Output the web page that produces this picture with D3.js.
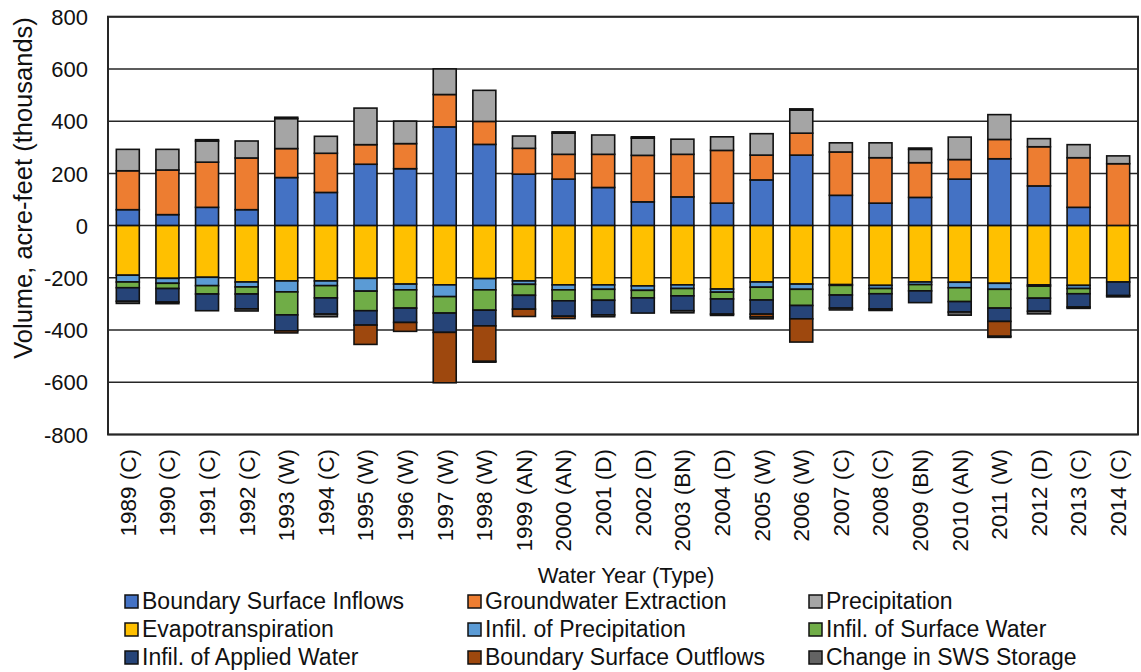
<!DOCTYPE html>
<html>
<head>
<meta charset="utf-8">
<script src="https://cdn.jsdelivr.net/npm/d3@7"></script>
<style>
  html, body { margin: 0; padding: 0; background: #fff; }
  svg { display: block; font-family: "Liberation Sans", Arial, sans-serif; }
</style>
</head>
<body>
<svg id="chart" width="1141" height="672"></svg>
<script>
const years = ["1989 (C)", "1990 (C)", "1991 (C)", "1992 (C)", "1993 (W)", "1994 (C)", "1995 (W)", "1996 (W)", "1997 (W)", "1998 (W)", "1999 (AN)", "2000 (AN)", "2001 (D)", "2002 (D)", "2003 (BN)", "2004 (D)", "2005 (W)", "2006 (W)", "2007 (C)", "2008 (C)", "2009 (BN)", "2010 (AN)", "2011 (W)", "2012 (D)", "2013 (C)", "2014 (C)"];

const boundaryInflows  = [61, 42, 70, 61, 184, 127, 235, 218, 378, 311, 197, 178, 146, 91, 110, 86, 175, 270, 116, 86, 108, 178, 256, 152, 70, 0];
const gwExtraction     = [149, 171, 173, 198, 111, 150, 75, 96, 124, 88, 99, 95, 127, 178, 163, 202, 95, 84, 166, 174, 133, 75, 74, 150, 190, 237];
const precipitation    = [82, 79, 81, 65, 115, 65, 140, 86, 98, 119, 47, 81, 74, 66, 58, 52, 82, 88, 35, 57, 51, 86, 95, 31, 50, 30];
const evapotranspiration = [-190, -202, -198, -216, -212, -212, -202, -224, -227, -203, -212, -227, -227, -231, -227, -243, -216, -224, -226, -229, -216, -217, -221, -227, -229, -216];
const infilPrecip      = [-26, -19, -32, -19, -42, -18, -49, -22, -45, -43, -13, -19, -17, -17, -14, -12, -20, -20, -3, -12, -10, -21, -23, -5, -12, 0];
const infilSurface     = [-22, -20, -32, -27, -88, -47, -75, -70, -63, -78, -42, -42, -42, -29, -28, -26, -49, -62, -37, -20, -24, -53, -72, -46, -20, 0];
const infilApplied     = [-52, -52, -64, -57, -61, -62, -55, -55, -74, -60, -53, -59, -56, -58, -57, -58, -54, -51, -50, -58, -45, -40, -51, -50, -51, -52];
const boundaryOutflows = [0, 0, 0, 0, -8, 0, -74, -34, -193, -136, -28, -9, 0, 0, 0, 0, -11, -89, 0, 0, 0, 0, -57, 0, 0, 0];
const swsStorage       = [-8, -6, 5, -8, 5, -10, 0, 0, 0, -3, 0, 5, -7, 5, -8, -5, -7, 5, -7, -6, 5, -12, -4, -10, -5, -5];

const yTicks = [800, 600, 400, 200, 0, -200, -400, -600, -800];
const yTickLabels = ["800", "600", "400", "200", "0", "-200", "-400", "-600", "-800"];

const seriesNames = ["Boundary Surface Inflows", "Groundwater Extraction", "Precipitation",
  "Evapotranspiration", "Infil. of Precipitation", "Infil. of Surface Water",
  "Infil. of Applied Water", "Boundary Surface Outflows", "Change in SWS Storage"];
const seriesColors = ["#4472C4", "#ED7D31", "#A5A5A5", "#FFC000", "#5B9BD5", "#70AD47", "#264478", "#9E480E", "#636363"];
const seriesValues = [boundaryInflows, gwExtraction, precipitation, evapotranspiration, infilPrecip, infilSurface, infilApplied, boundaryOutflows, swsStorage];

(function () {
const table = years.map((yr, i) => {
  const row = { year: yr };
  seriesNames.forEach((n, k) => row[n] = seriesValues[k][i]);
  return row;
});

const svg = d3.select("#chart");
const pLeft = 108, pRight = 1138, pTop = 16.7, pBottom = 434.5;

const x = d3.scaleBand().domain(years).range([pLeft, pRight]).paddingInner(0.42).paddingOuter(0.21);
const y = d3.scaleLinear().domain([-800, 800]).range([pBottom, pTop]);

// Gridlines
svg.append("g").selectAll("line").data(yTicks).join("line")
  .attr("x1", pLeft).attr("x2", pRight)
  .attr("y1", d => y(d)).attr("y2", d => y(d))
  .attr("stroke", "#262626").attr("stroke-width", 1.5);

// Stacks
const stack = d3.stack().keys(seriesNames).offset(d3.stackOffsetDiverging);
const stacked = stack(table);

const gBars = svg.append("g");
stacked.forEach((s, k) => {
  gBars.append("g")
    .attr("fill", seriesColors[k])
    .selectAll("rect")
    .data(s.filter(d => d[1] !== d[0]))
    .join("rect")
    .attr("x", d => x(d.data.year))
    .attr("width", x.bandwidth())
    .attr("y", d => y(Math.max(d[0], d[1])))
    .attr("height", d => Math.abs(y(d[0]) - y(d[1])))
    .attr("stroke", "#111")
    .attr("stroke-width", 1.6);
});

// Plot border
svg.append("rect")
  .attr("x", pLeft).attr("y", pTop)
  .attr("width", pRight - pLeft).attr("height", pBottom - pTop)
  .attr("fill", "none").attr("stroke", "#262626").attr("stroke-width", 2);

// Y axis labels
const yAxis = d3.axisLeft(y).tickValues(yTicks).tickSize(0).tickPadding(0)
  .tickFormat((d, i) => yTickLabels[i]);
const gy = svg.append("g").attr("transform", "translate(88,0)").call(yAxis);
gy.select(".domain").remove();
gy.selectAll("text").attr("font-size", 22).attr("fill", "#111").attr("font-family", "Liberation Sans, Arial, sans-serif")
  .attr("dy", "0.35em").attr("x", 0);

// X axis labels
const xAxis = d3.axisBottom(x).tickSize(0).tickPadding(0);
const gx = svg.append("g").attr("transform", "translate(0,449)").call(xAxis);
gx.select(".domain").remove();
gx.selectAll("text")
  .attr("font-size", 22.5).attr("fill", "#111").attr("font-family", "Liberation Sans, Arial, sans-serif")
  .attr("text-anchor", "end")
  .attr("transform", "rotate(-90)")
  .attr("x", 0).attr("y", 0).attr("dy", "0.35em");

// Axis titles
svg.append("text")
  .attr("transform", "translate(23,188) rotate(-90)")
  .attr("text-anchor", "middle").attr("dy", "0.35em")
  .attr("font-size", 25.5).attr("fill", "#111")
  .text("Volume, acre-feet (thousands)");

svg.append("text")
  .attr("x", 626).attr("y", 583)
  .attr("text-anchor", "middle")
  .attr("font-size", 22).attr("fill", "#111")
  .text("Water Year (Type)");

// Legend
const colX = [142, 485, 826];
const rowY = [608.5, 636.5, 664.5];
const legend = svg.append("g");
seriesNames.forEach((n, k) => {
  const cx = colX[k % 3], cy = rowY[Math.floor(k / 3)];
  legend.append("rect")
    .attr("x", cx - 17).attr("y", cy - 13.5)
    .attr("width", 13).attr("height", 13)
    .attr("fill", seriesColors[k]).attr("stroke", "#111").attr("stroke-width", 1.5);
  legend.append("text")
    .attr("x", cx).attr("y", cy)
    .attr("font-size", 23).attr("fill", "#111")
    .text(n);
});
})();
</script>
</body>
</html>
